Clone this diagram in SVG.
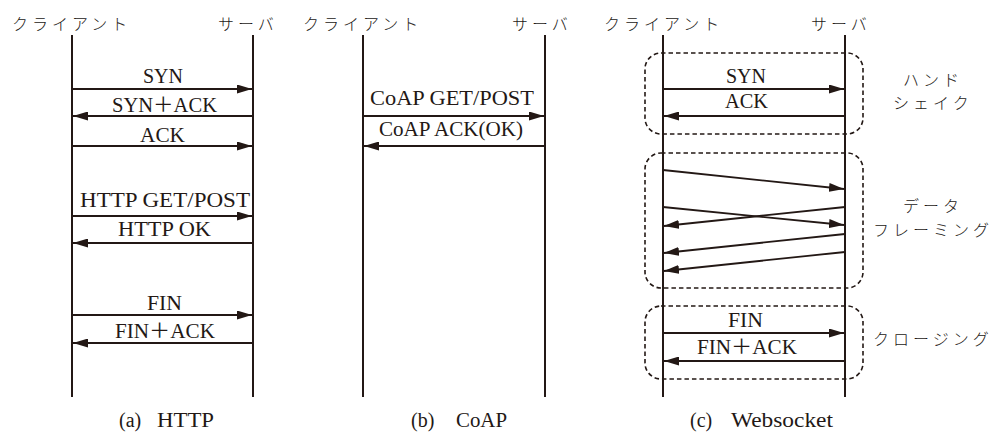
<svg xmlns="http://www.w3.org/2000/svg" width="996" height="436" viewBox="0 0 996 436">
  <style>
    .life { stroke: #231815; stroke-width: 2; fill: none; }
    .msg { stroke: #231815; stroke-width: 1.8; fill: none; marker-end: url(#ah); }
    .phase { stroke: #231815; stroke-width: 1.6; fill: none; stroke-dasharray: 4.5 3; }
    .jp { font-family: "Noto Sans CJK JP", sans-serif; font-size: 16px; letter-spacing: 4px; fill: #231815; font-weight: 300; }
    .lbl { font-family: "Liberation Serif", "Noto Sans CJK JP", serif; font-size: 20px; fill: #231815; text-anchor: middle; }
    .cap { font-family: "Liberation Serif", serif; font-size: 20px; fill: #231815; }
  </style>
  <defs>
    <marker id="ah" viewBox="0 0 15 9" refX="15" refY="4.5" markerWidth="15" markerHeight="9" markerUnits="userSpaceOnUse" orient="auto">
      <path d="M0,0 L15,4.5 L0,9 z" fill="#231815"/>
    </marker>
  </defs>

  <!-- (a) HTTP -->
  <g id="http-client">
    <line class="life" x1="72" y1="35" x2="72" y2="397"/>
    <text class="jp" x="12" y="30">クライアント</text>
  </g>
  <g id="http-server">
    <line class="life" x1="253" y1="35" x2="253" y2="397"/>
    <text class="jp" x="218" y="30">サーバ</text>
  </g>

  <!-- (b) CoAP -->
  <g id="coap-client">
    <line class="life" x1="363" y1="35" x2="363" y2="397"/>
    <text class="jp" x="303" y="30">クライアント</text>
  </g>
  <g id="coap-server">
    <line class="life" x1="545" y1="35" x2="545" y2="397"/>
    <text class="jp" x="512" y="30">サーバ</text>
  </g>

  <!-- (c) Websocket -->
  <g id="ws-client">
    <line class="life" x1="663" y1="35" x2="663" y2="397"/>
    <text class="jp" x="604" y="30">クライアント</text>
  </g>
  <g id="ws-server">
    <line class="life" x1="845" y1="35" x2="845" y2="397"/>
    <text class="jp" x="811" y="30">サーバ</text>
  </g>

  <!-- phase boxes of the Websocket exchange -->
  <g id="ws-handshake">
    <rect class="phase" x="645" y="53" width="218" height="81" rx="16" ry="16"/>
    <text class="jp"><tspan x="903" y="86">ハンド</tspan><tspan x="893" y="109">シェイク</tspan></text>
  </g>
  <g id="ws-framing">
    <rect class="phase" x="645" y="153" width="218" height="135" rx="16" ry="16"/>
    <text class="jp"><tspan x="903" y="212">データ</tspan><tspan x="873" y="236">フレーミング</tspan></text>
  </g>
  <g id="ws-closing">
    <rect class="phase" x="645" y="306" width="218" height="73" rx="16" ry="16"/>
    <text class="jp" x="873" y="345">クロージング</text>
  </g>

  <!-- messages -->
  <g id="connectors">
    <!-- HTTP -->
    <line class="msg" x1="72" y1="89" x2="252" y2="89"/>
    <line class="msg" x1="253" y1="116" x2="73" y2="116"/>
    <line class="msg" x1="72" y1="146" x2="252" y2="146"/>
    <line class="msg" x1="72" y1="216" x2="252" y2="216"/>
    <line class="msg" x1="253" y1="243" x2="73" y2="243"/>
    <line class="msg" x1="72" y1="315" x2="252" y2="315"/>
    <line class="msg" x1="253" y1="343" x2="73" y2="343"/>
    <!-- CoAP -->
    <line class="msg" x1="363" y1="116" x2="544" y2="116"/>
    <line class="msg" x1="545" y1="146" x2="364" y2="146"/>
    <!-- Websocket -->
    <line class="msg" x1="663" y1="89" x2="844" y2="89"/>
    <line class="msg" x1="845" y1="116" x2="664" y2="116"/>
    <line class="msg" x1="663" y1="170" x2="844" y2="189"/>
    <line class="msg" x1="663" y1="207" x2="844" y2="225"/>
    <line class="msg" x1="845" y1="207" x2="664" y2="226"/>
    <line class="msg" x1="845" y1="234" x2="664" y2="253"/>
    <line class="msg" x1="845" y1="252" x2="664" y2="271"/>
    <line class="msg" x1="663" y1="333" x2="844" y2="333"/>
    <line class="msg" x1="845" y1="361" x2="664" y2="361"/>
  </g>

  <g id="message-labels">
    <text class="lbl" x="163" y="83" textLength="40" lengthAdjust="spacingAndGlyphs">SYN</text>
    <text class="lbl" x="164.5" y="112" textLength="105" lengthAdjust="spacingAndGlyphs">SYN＋ACK</text>
    <text class="lbl" x="162.5" y="142" textLength="45" lengthAdjust="spacingAndGlyphs">ACK</text>
    <text class="lbl" x="165" y="207" textLength="170" lengthAdjust="spacingAndGlyphs">HTTP GET/POST</text>
    <text class="lbl" x="164.5" y="236" textLength="93" lengthAdjust="spacingAndGlyphs">HTTP OK</text>
    <text class="lbl" x="164.5" y="310" textLength="35" lengthAdjust="spacingAndGlyphs">FIN</text>
    <text class="lbl" x="165" y="338" textLength="100" lengthAdjust="spacingAndGlyphs">FIN＋ACK</text>

    <text class="lbl" x="452" y="105" textLength="164" lengthAdjust="spacingAndGlyphs">CoAP GET/POST</text>
    <text class="lbl" x="451" y="136" textLength="144" lengthAdjust="spacingAndGlyphs">CoAP ACK(OK)</text>

    <text class="lbl" x="746" y="83" textLength="40" lengthAdjust="spacingAndGlyphs">SYN</text>
    <text class="lbl" x="746.5" y="108" textLength="43" lengthAdjust="spacingAndGlyphs">ACK</text>
    <text class="lbl" x="745.5" y="327" textLength="35" lengthAdjust="spacingAndGlyphs">FIN</text>
    <text class="lbl" x="747" y="354" textLength="100" lengthAdjust="spacingAndGlyphs">FIN＋ACK</text>
  </g>

  <!-- captions -->
  <g id="captions">
    <text class="cap" y="427"><tspan x="119">(a)</tspan><tspan x="157" textLength="57" lengthAdjust="spacingAndGlyphs">HTTP</tspan></text>
    <text class="cap" y="427"><tspan x="411">(b)</tspan><tspan x="456" textLength="51" lengthAdjust="spacingAndGlyphs">CoAP</tspan></text>
    <text class="cap" y="427"><tspan x="690">(c)</tspan><tspan x="731" textLength="102" lengthAdjust="spacingAndGlyphs">Websocket</tspan></text>
  </g>
</svg>
